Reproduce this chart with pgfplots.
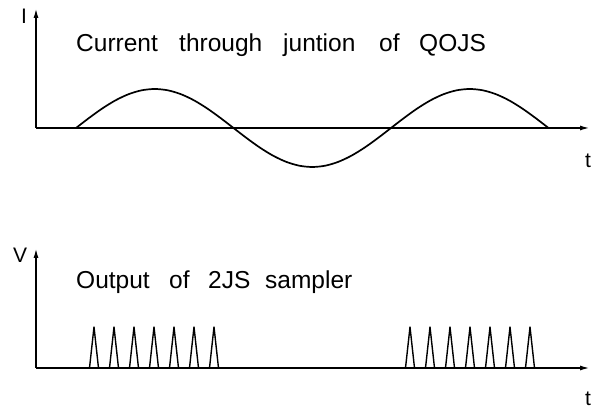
\documentclass[border=0pt]{standalone}
\usepackage{fontspec}
\setmainfont{Liberation Sans}
\usepackage{pgfplots}
\pgfplotsset{compat=1.18}
\usetikzlibrary{arrows.meta}
\pgfplotsset{
  myax/.style={
    x=1pt, y=1pt, anchor=south west,
    xmin=0, xmax=554, ymin=0, ymax=120,
    axis lines*=left, xtick=\empty, ytick=\empty, clip=false,
    axis line style={line width=1.7pt, black},
    x axis line style={-{Latex[length=10pt,width=5pt]}},
    y axis line style={-{Latex[length=10pt,width=5pt]}},
  },
}
\tikzset{
  ttl/.style={anchor=base west, inner sep=0pt, font=\fontsize{24.5}{28}\selectfont},
  lab/.style={anchor=base west, inner sep=0pt, font=\fontsize{21}{25}\selectfont},
}
\begin{document}
\begin{tikzpicture}[x=1pt,y=1pt]
\useasboundingbox (0,0) rectangle (594,411);
% top panel
\begin{axis}[myax, at={(36pt,283pt)}]
\addplot[black, line width=1.7pt, smooth, no marks] coordinates {
(40,0) (53.125,10.09) (66.25,19.5) (79.375,27.58) (92.5,33.77) (105.625,37.67) (118.75,39)
(131.875,37.67) (145,33.77) (158.125,27.58) (171.25,19.5) (184.375,10.09) (197.5,0)
(210.625,-10.09) (223.75,-19.5) (236.875,-27.58) (250,-33.77) (263.125,-37.67) (276.25,-39)
(289.375,-37.67) (302.5,-33.77) (315.625,-27.58) (328.75,-19.5) (341.875,-10.09) (355,0)
(368.125,10.09) (381.25,19.5) (394.375,27.58) (407.5,33.77) (420.625,37.67) (433.75,39)
(446.875,37.67) (460,33.77) (473.125,27.58) (486.25,19.5) (499.375,10.09) (512.5,0)
};
\node[ttl] at (axis cs:40,76) {Current};
\node[ttl] at (axis cs:143,76) {through};
\node[ttl] at (axis cs:247,76) {juntion};
\node[ttl] at (axis cs:343,76) {of};
\node[ttl] at (axis cs:383,76) {QOJS};
\node[lab] at (axis cs:-15,104) {I};
\node[lab] at (axis cs:549,-40) {t};
\end{axis}
% bottom panel
\begin{axis}[myax, at={(36pt,43pt)}]
\addplot[black, line width=1.4pt, sharp plot, no marks, line join=round] coordinates {
(53.5,0) (58,41) (62.5,0) (73.5,0) (78,41) (82.5,0) (93.5,0) (98,41) (102.5,0)
(113.5,0) (118,41) (122.5,0) (133.5,0) (138,41) (142.5,0) (153.5,0) (158,41) (162.5,0)
(173.5,0) (178,41) (182.5,0)
};
\addplot[black, line width=1.4pt, sharp plot, no marks, line join=round] coordinates {
(369.5,0) (374,41) (378.5,0) (389.5,0) (394,41) (398.5,0) (409.5,0) (414,41) (418.5,0)
(429.5,0) (434,41) (438.5,0) (449.5,0) (454,41) (458.5,0) (469.5,0) (474,41) (478.5,0)
(489.5,0) (494,41) (498.5,0)
};
\node[ttl] at (axis cs:40,79) {Output};
\node[ttl] at (axis cs:133,79) {of};
\node[ttl] at (axis cs:172,79) {2JS};
\node[ttl] at (axis cs:229,79) {sampler};
\node[lab] at (axis cs:-23,105) {V};
\node[lab] at (axis cs:549,-38) {t};
\end{axis}
\end{tikzpicture}
\end{document}
